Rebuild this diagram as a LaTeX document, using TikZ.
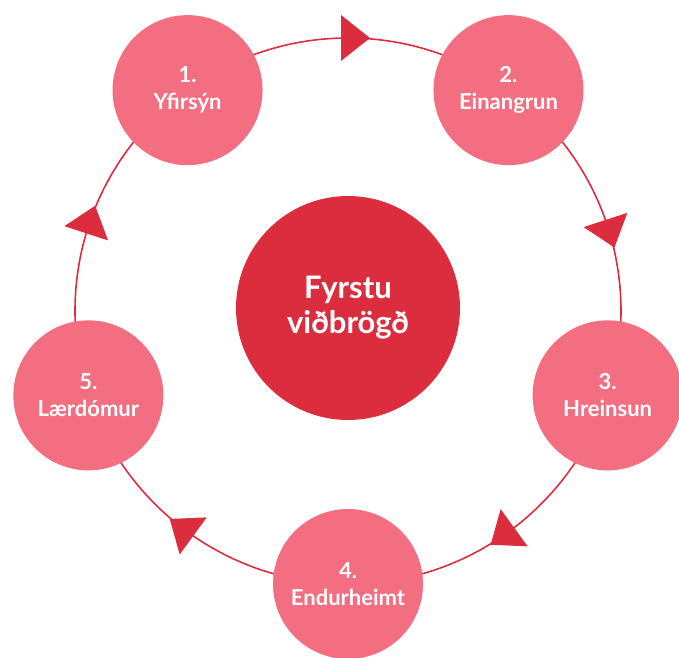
\documentclass[tikz,border=0pt]{standalone}
\usepackage{fontspec}
\setmainfont{Lato}
\usetikzlibrary{calc}
\definecolor{ringred}{RGB}{219,45,62}
\definecolor{stepbg}{RGB}{242,110,128}
\tikzset{
  stepcircle/.style={circle, fill=stepbg, minimum size=150pt, inner sep=0pt, text=white, align=center, font=\fontsize{22}{27}\selectfont\bfseries},
  hubcircle/.style={circle, fill=ringred, minimum size=224pt, inner sep=0pt, text=white, align=center, font=\fontsize{31}{35}\selectfont\bfseries},
  ringline/.style={draw=ringred, line width=1.6pt},
  arrowtri/.style={fill=ringred}
}
\begin{document}
\begin{tikzpicture}[x=1pt,y=1pt]
\useasboundingbox (0,0) rectangle (679,657);
\coordinate (rc) at (348,346);
\draw[ringline] (rc) circle (273);
% arrowheads at midpoints, pointing clockwise
\foreach \a in {90,18,-54,-126,162}{
  \begin{scope}[shift={(rc)}, rotate=\a]
    \fill[arrowtri] (273-23,7) -- (273+23,7) -- (273,-22) -- cycle;
  \end{scope}
}
\node[hubcircle] (hub) at (348,349) {Fyrstu\\viðbrögð};
\node[stepcircle] (s1) at ($(rc)+(126:273)$) {1.\\Yfirsýn};
\node[stepcircle] (s2) at ($(rc)+(54:273)$) {2.\\Einangrun};
\node[stepcircle] (s3) at ($(rc)+(-18:273)$) {3.\\Hreinsun};
\node[stepcircle] (s4) at ($(rc)+(-90:273)$) {4.\\Endurheimt};
\node[stepcircle] (s5) at ($(rc)+(198:273)$) {5.\\Lærdómur};
\end{tikzpicture}
\end{document}
